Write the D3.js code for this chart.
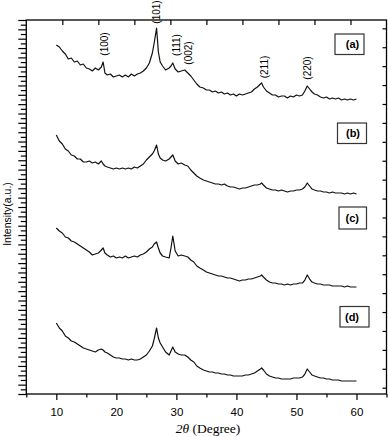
<!DOCTYPE html>
<html>
<head>
<meta charset="utf-8">
<script src="https://cdn.jsdelivr.net/npm/d3@7/dist/d3.min.js"></script>
<style>
  body { margin: 0; background: #fff; }
  text { fill: #000; }
</style>
</head>
<body>
<svg id="chart" width="388" height="437"></svg>
<script>
// 2θ grid (degrees), shared by all four patterns
const twoTheta = [
  10, 10.5, 11, 11.5, 12, 12.5, 13, 13.5, 14, 14.5,
  15, 15.5, 16, 16.5, 17, 17.5, 17.8, 18.1, 18.5, 19,
  19.5, 20, 20.5, 21, 21.5, 22, 22.5, 23, 23.5, 24,
  24.5, 25, 25.5, 26, 26.3, 26.7, 27, 27.3, 27.7, 28.2,
  28.8, 29.1, 29.4, 29.8, 30.3, 30.8, 31.4, 31.9, 32.4, 32.9,
  33.4, 33.9, 34.5, 35, 35.5, 36, 36.5, 37, 37.5, 38,
  38.5, 39, 39.5, 40, 40.5, 41, 41.5, 42, 42.5, 43,
  43.5, 44, 44.2, 44.5, 45, 45.5, 46, 46.5, 47, 47.5,
  48, 48.5, 49, 49.5, 50, 50.5, 51, 51.4, 51.8, 52.2,
  52.6, 53, 53.5, 54, 54.5, 55, 55.5, 56, 56.5, 57,
  57.5, 58, 58.5, 59, 59.5, 60
];

// intensities (a.u., already stacked with their offsets)
const intensityA = [
  349, 347, 343, 340, 335, 336, 332, 333, 329, 330,
  326, 325, 323, 326, 324, 327, 332, 321, 319, 320,
  317, 318, 319, 317, 319, 317, 320, 318, 320, 321,
  323, 326, 331, 341, 351, 366, 342, 332, 328, 324,
  326, 328, 331, 325, 322, 323, 324, 321, 318, 314,
  310, 307, 306, 304, 304, 302, 303, 301, 302, 300,
  301, 299, 300, 298, 300, 299, 300, 301, 302, 305,
  307, 310, 311, 307, 303, 301, 299, 299, 297, 298,
  298, 296, 298, 297, 299, 298, 299, 303, 308, 305,
  302, 300, 299, 297, 296, 297, 295, 296, 295, 296,
  294, 295, 294, 295, 294, 295
];
const intensityB = [
  259, 253, 250, 245, 243, 239, 238, 235, 235, 232,
  232, 233, 231, 232, 230, 233, 230, 228, 227, 226,
  225, 226, 225, 226, 225, 226, 225, 227, 226, 228,
  230, 234, 237, 240, 243, 249, 240, 236, 234, 233,
  235, 237, 239, 233, 230, 231, 229, 228, 224, 221,
  218, 216, 214, 213, 212, 211, 210, 210, 209, 210,
  208, 207, 207, 206, 205, 206, 206, 207, 208, 209,
  209, 210, 211, 209, 206, 205, 204, 204, 203, 204,
  203, 202, 203, 203, 204, 204, 205, 207, 211, 208,
  205, 204, 203, 203, 202, 202, 201, 202, 201, 201,
  201, 200, 201, 200, 201, 200
];
const intensityC = [
  166, 163, 161, 157, 156, 153, 152, 150, 148, 146,
  144, 142, 139, 140, 141, 144, 146, 141, 139, 137,
  138, 136, 137, 136, 138, 136, 137, 138, 137, 139,
  140, 142, 145, 147, 150, 152, 146, 141, 138, 137,
  136, 146, 158, 143, 138, 139, 138, 137, 134, 132,
  128, 126, 124, 122, 121, 120, 119, 118, 118, 117,
  116, 116, 115, 114, 113, 114, 114, 115, 115, 116,
  117, 118, 119, 117, 114, 112, 111, 111, 110, 110,
  109, 110, 109, 110, 110, 111, 111, 114, 119, 115,
  112, 111, 110, 110, 109, 109, 109, 108, 108, 108,
  108, 107, 108, 107, 107, 107
];
const intensityD = [
  71, 66, 63, 58, 56, 53, 52, 50, 48, 46,
  45, 44, 43, 42, 44, 45, 44, 42, 41, 39,
  37, 36, 36, 35, 35, 34, 35, 34, 34, 35,
  37, 39, 43, 48, 55, 66, 56, 51, 47, 42,
  39, 43, 47, 42, 40, 39, 39, 37, 34, 32,
  28, 26, 24, 23, 22, 22, 21, 21, 20, 20,
  19, 19, 18, 18, 18, 18, 19, 19, 20, 21,
  23, 25, 26, 24, 20, 18, 17, 16, 16, 15,
  15, 15, 15, 16, 16, 16, 17, 20, 25, 22,
  19, 18, 17, 16, 16, 15, 15, 14, 14, 14,
  13, 13, 13, 13, 13, 13
];

const sampleNames = ["(a)", "(b)", "(c)", "(d)"];
const xTickLabels = [10, 20, 30, 40, 50, 60];
const peakNames = ["(100)", "(101)", "(111)", "(002)", "(211)", "(220)"];
const peakLabelAt = [17.94, 26.68, 29.93, 31.98, 44.58, 51.86];

// layout
const L = 26.3, R = 386.5, T = 20, B = 394;
const peakLabelY = [44, 12, 45, 53, 67, 68];
const boxes = [
  { x0: 335, x1: 364, y0: 34, y1: 54.5, tx: 352.5 },
  { x0: 337.5, x1: 366.5, y0: 123, y1: 143.5, tx: 353 },
  { x0: 339, x1: 366.5, y0: 207, y1: 229, tx: 352.3 },
  { x0: 340, x1: 369, y0: 306.5, y1: 327, tx: 352 }
];

const svg = d3.select("#chart");

const x = d3.scaleLinear().domain([5, 65]).range([L, R]);
const y = d3.scaleLinear().domain([0, 374]).range([B, T]);
const xTop = d3.scaleLinear().domain([0, 10]).range([L, R]);
const yRight = d3.scaleLinear().domain([-0.333, 19.44]).range([B, T]);

// bottom axis: labelled majors + minor ticks
const bottomMinor = svg.append("g")
  .attr("transform", "translate(0," + B + ")")
  .call(d3.axisBottom(x).tickValues([5, 15, 25, 35, 45, 55, 65]).tickFormat("").tickSize(3.5).tickSizeOuter(0));
const bottomMajor = svg.append("g")
  .attr("transform", "translate(0," + B + ")")
  .call(d3.axisBottom(x).tickValues(xTickLabels).tickSize(6).tickSizeOuter(0).tickPadding(8));
bottomMajor.selectAll("text")
  .attr("font-family", "Liberation Sans, Arial, sans-serif")
  .attr("font-size", "11.5px");

// left axis: dense alternating ticks
const leftVals = d3.range(0, 81).map(i => i * 374 / 80);
svg.append("g")
  .attr("transform", "translate(" + L + ",0)")
  .call(d3.axisLeft(y).tickValues(leftVals.filter((d, i) => i % 2 === 0)).tickFormat("").tickSize(8).tickSizeOuter(0));
svg.append("g")
  .attr("transform", "translate(" + L + ",0)")
  .call(d3.axisLeft(y).tickValues(leftVals.filter((d, i) => i % 2 === 1)).tickFormat("").tickSize(5.5).tickSizeOuter(0));

// top axis: inward ticks
svg.append("g")
  .attr("transform", "translate(0," + T + ")")
  .call(d3.axisTop(xTop).tickValues(d3.range(1, 10)).tickFormat("").tickSize(-5).tickSizeOuter(0));

// right axis: inward ticks
svg.append("g")
  .attr("transform", "translate(" + R + ",0)")
  .call(d3.axisRight(yRight).tickValues(d3.range(0, 20)).tickFormat("").tickSize(-4).tickSizeOuter(0));

svg.selectAll(".domain").remove();
svg.selectAll(".tick line").attr("stroke", "#000").attr("stroke-width", 1.2);

// frame
svg.append("rect")
  .attr("x", L).attr("y", T)
  .attr("width", R - L).attr("height", B - T)
  .attr("fill", "none").attr("stroke", "#000").attr("stroke-width", 1.3);

// patterns
const series = [intensityA, intensityB, intensityC, intensityD];
const line = d3.line()
  .x((d, i) => x(twoTheta[i]))
  .y(d => y(d));

svg.append("g")
  .selectAll("path")
  .data(series)
  .join("path")
  .attr("d", line)
  .attr("fill", "none")
  .attr("stroke", "#111")
  .attr("stroke-width", 1.2)
  .attr("stroke-linejoin", "round");

// sample boxes
const box = svg.append("g")
  .selectAll("g")
  .data(boxes)
  .join("g");
box.append("rect")
  .attr("x", d => d.x0).attr("y", d => d.y0)
  .attr("width", d => d.x1 - d.x0).attr("height", d => d.y1 - d.y0)
  .attr("fill", "#fff").attr("stroke", "#333").attr("stroke-width", 1.2);
box.append("text")
  .attr("x", d => d.tx)
  .attr("y", d => (d.y0 + d.y1) / 2 + 4)
  .attr("text-anchor", "middle")
  .attr("font-family", "Liberation Sans, Arial, sans-serif")
  .attr("font-weight", "bold")
  .attr("font-size", "11px")
  .text((d, i) => sampleNames[i]);

// peak indices
svg.append("g")
  .selectAll("text")
  .data(peakNames)
  .join("text")
  .attr("transform", (d, i) => "translate(" + (x(peakLabelAt[i]) + 3.6) + "," + peakLabelY[i] + ") rotate(-90)")
  .attr("text-anchor", "middle")
  .attr("font-family", "Liberation Sans, Arial, sans-serif")
  .attr("font-size", "10px")
  .text(d => d);

// axis titles
svg.append("text")
  .attr("transform", "translate(10.5,214) rotate(-90)")
  .attr("text-anchor", "middle")
  .attr("font-family", "Liberation Sans, Arial, sans-serif")
  .attr("font-size", "10.5px")
  .text("Intensity(a.u.)");

const xt = svg.append("text")
  .attr("x", 208)
  .attr("y", 433)
  .attr("text-anchor", "middle")
  .attr("font-family", "Liberation Serif, Times New Roman, serif")
  .attr("font-size", "13.5px");
xt.append("tspan").attr("font-style", "italic").text("2θ");
xt.append("tspan").text(" (Degree)");
</script>
</body>
</html>
